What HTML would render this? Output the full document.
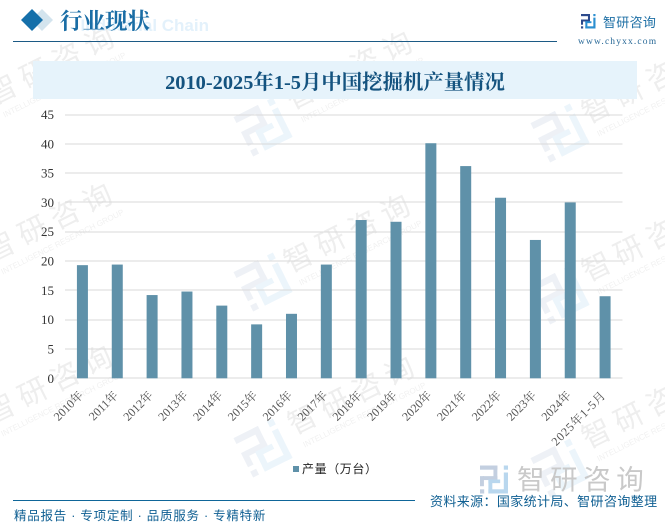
<!DOCTYPE html>
<html lang="zh">
<head>
<meta charset="utf-8">
<title>2010-2025年1-5月中国挖掘机产量情况</title>
<style>
html,body{margin:0;padding:0;background:#fff;overflow:hidden;}
#page{position:relative;width:665px;height:529px;overflow:hidden;background:#fff;}
svg{position:absolute;left:0;top:0;}
</style>
</head>
<body>
<div id="page">
<svg id="svg" width="665" height="529" viewBox="0 0 665 529" xmlns="http://www.w3.org/2000/svg">
  <g id="watermarks"></g>
  <text x="209" y="31" text-anchor="end" font-family="'Liberation Sans',sans-serif" font-weight="bold" font-size="17" fill="#e3f1fb">Industrial Chain</text>
  <polygon points="42,9 53,20 42,31 31,20" fill="#d3e4ee"/>
  <polygon points="32,9 43,20 32,31 21,20" fill="#1570aa"/>
  <text x="60" y="29" font-family="'Liberation Serif','Noto Serif CJK SC',serif" font-weight="bold" font-size="22.5" fill="#1a6da5">行业现状</text>
  <rect x="13" y="41" width="544" height="1" fill="#1c5a85"/>
  <g id="logo-small"></g>
  <text x="603" y="27" font-family="'Liberation Sans','Noto Sans CJK SC',sans-serif" font-size="13" letter-spacing="0.3" fill="#1d6fa5">智研咨询</text>
  <text x="578" y="44" font-family="'Liberation Serif',serif" font-size="9.5" letter-spacing="1.15" fill="#2a6a98">www.chyxx.com</text>
  <rect x="33" y="61" width="604" height="38" fill="#e6f3fb"/>
  <text x="335" y="89" text-anchor="middle" font-family="'Liberation Serif','Noto Serif CJK SC',serif" font-weight="bold" font-size="20.4" fill="#14537f">2010-2025年1-5月中国挖掘机产量情况</text>
  <g id="grid"></g>
  <g id="yticks"></g>
  <g id="bars"></g>
  <g id="xticks"></g>
  <g>
    <rect x="293" y="466" width="6" height="6" fill="#5f91a9"/>
    <text x="302" y="473" font-family="'Liberation Sans','Noto Sans CJK SC',sans-serif" font-size="12" letter-spacing="0.6" fill="#222">产量（万台）</text>
  </g>
  <g id="logo-large"></g>
  <text x="517" y="489" font-family="'Liberation Sans','Noto Sans CJK SC',sans-serif" font-size="27.5" letter-spacing="5.6" fill="#c9c9c9">智研咨询</text>
  <rect x="13" y="500" width="402" height="1" fill="#0f6699"/>
  <text x="14" y="520" font-family="'Liberation Sans','Noto Sans CJK SC',sans-serif" font-size="12.5" letter-spacing="0.75" fill="#0f5f92">精品报告 · 专项定制 · 品质服务 · 专精特新</text>
  <text x="430" y="506" font-family="'Liberation Sans','Noto Sans CJK SC',sans-serif" font-size="13" letter-spacing="0.38" fill="#0f5f92">资料来源：国家统计局、智研咨询整理</text>
</svg>
</div>
<script>
const categories = ['2010年','2011年','2012年','2013年','2014年','2015年','2016年','2017年','2018年','2019年','2020年','2021年','2022年','2023年','2024年','2025年1-5月'];
const outputValues = [19.3,19.4,14.2,14.8,12.4,9.2,11,19.4,27,26.7,40.1,36.2,30.8,23.6,30,14];
const yTickLabels = [0,5,10,15,20,25,30,35,40,45];

const NS = 'http://www.w3.org/2000/svg';
const plotLeft = 65, plotRight = 622.5, plotBottom = 378.3, plotTop = 114.5, yMax = 45, barWidth = 11;
function yScale(v){ return plotBottom - (v / yMax) * (plotBottom - plotTop); }
function xScale(i){ return plotLeft + (i + 0.5) * (plotRight - plotLeft) / categories.length; }
function make(tag, attrs, parent){
  const el = document.createElementNS(NS, tag);
  for (const k in attrs) el.setAttribute(k, attrs[k]);
  parent.appendChild(el);
  return el;
}
const grid = document.getElementById('grid');
const yticks = document.getElementById('yticks');
const bars = document.getElementById('bars');
const xticks = document.getElementById('xticks');
const wm = document.getElementById('watermarks');

yTickLabels.forEach(function(t){
  const line = make('rect', {x: plotLeft, y: Math.round(yScale(t)) - 0.5, width: plotRight - plotLeft, height: 1, fill: '#d9d9d9'}, grid);
  
  
  const lab = make('text', {x: 54, y: yScale(t) + 4.5, 'text-anchor': 'end', 'font-family': "'Liberation Serif',serif", 'font-size': 13, fill: '#333'}, yticks);
  lab.textContent = t;
  
  
});

outputValues.forEach(function(v, i){
  const bar = make('rect', {x: xScale(i) - barWidth / 2, y: yScale(v), width: barWidth, height: plotBottom - yScale(v), fill: '#5f91a9'}, bars);
  
  
});

categories.forEach(function(c, i){
  const ax = xScale(i) + 1.5, ay = 396;
  const lab = make('text', {x: ax, y: ay, 'text-anchor': 'end', transform: 'rotate(-45 ' + ax + ' ' + ay + ')', 'font-family': "'Liberation Serif','Noto Serif CJK SC',serif", 'font-size': 12, 'letter-spacing': c.length > 6 ? 0.8 : 0, fill: '#555'}, xticks);
  lab.textContent = c;
  
  
});

function drawLogo(parent, x, y, s, dark, light){
  [[0,0,0.62,0.15],[0.48,0,0.14,0.52],[0.1,0.38,0.52,0.14],[0,0.38,0.14,0.36],[0,0.85,0.15,0.15]].forEach(function(r){
    make('rect', {x: x + r[0] * s, y: y + r[1] * s, width: r[2] * s, height: r[3] * s, fill: dark}, parent);
  });
  [[0.85,0,0.15,0.15],[0.85,0.25,0.15,0.75],[0.3,0.85,0.7,0.15],[0.3,0.5,0.14,0.5],[0.3,0.5,0.42,0.13]].forEach(function(r){
    make('rect', {x: x + r[0] * s, y: y + r[1] * s, width: r[2] * s, height: r[3] * s, fill: light}, parent);
  });
}
drawLogo(document.getElementById('logo-small'), 581, 14, 14.5, '#2c4a8c', '#2b8fd0');
drawLogo(document.getElementById('logo-large'), 480, 465.5, 28, '#c3cfe0', '#b9d7ee');

const wmTexts = [[54,64],[352,69],[648,83],[52,221],[350,232],[648,241],[52,383],[354,394],[648,408]];
wmTexts.forEach(function(p){
  const g = make('g', {transform: 'translate(' + p[0] + ' ' + p[1] + ') rotate(-26.5)'}, wm);
  
  
  const a = make('text', {x: 0, y: 10, 'text-anchor': 'middle', 'font-family': "'Liberation Sans','Noto Sans CJK SC',sans-serif", 'font-size': 29, 'letter-spacing': 7, fill: '#eeeeee'}, g);
  a.textContent = '智研咨询';
  const b = make('text', {x: 0, y: 26, 'text-anchor': 'middle', 'font-family': "'Liberation Sans',sans-serif", 'font-size': 8, fill: '#f1f1f1'}, g);
  b.textContent = 'INTELLIGENCE RESEARCH GROUP';
});
const wmLogos = [[263,127],[560,133],[263,282],[560,295],[263,448],[560,468]];
wmLogos.forEach(function(p){
  const g = make('g', {transform: 'translate(' + p[0] + ' ' + p[1] + ') rotate(-26.5)'}, wm);
  
  
  drawLogo(g, -22, -22, 44, '#eef1f6', '#ecf5fb');
});
</script>
</body>
</html>
